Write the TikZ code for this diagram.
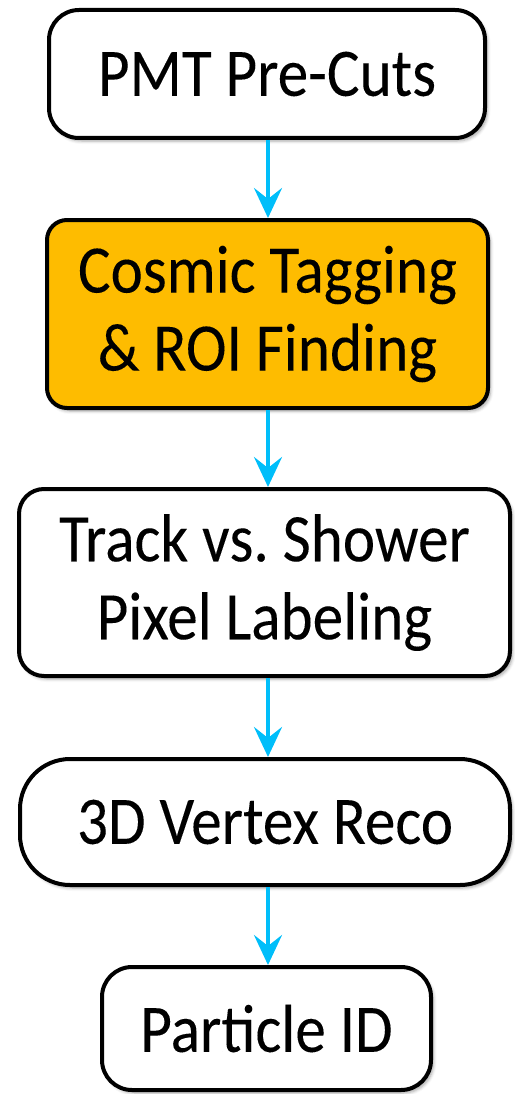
\documentclass[tikz,border=0pt]{standalone}
\usepackage{fontspec}
\setmainfont{Carlito}[FakeStretch=0.9, FakeBold=0.1]
\usetikzlibrary{arrows.meta,shadows.blur}
\definecolor{flowblue}{RGB}{0,190,250}
\definecolor{flowamber}{RGB}{254,188,0}
\tikzset{
  stage/.style={draw=black, line width=4pt, fill=white, align=center,
    inner sep=0pt, font=\fontsize{68}{78}\selectfont,
    blur shadow={shadow xshift=2.5pt, shadow yshift=-3pt,
      shadow blur radius=3pt, shadow opacity=35}},
  flow/.style={draw=flowblue, line width=4pt,
    -{Stealth[length=30pt, width=28pt, inset=11pt]}}
}
\begin{document}
\begin{tikzpicture}[x=1pt, y=-1pt]
  \useasboundingbox (0,0) rectangle (514,1094);
  \coordinate (spine) at (268,0);
  \node[stage, rounded corners=30pt, minimum width=436pt, minimum height=128pt]
    (precuts) at (267,74) {PMT Pre-Cuts};
  \node[stage, fill=flowamber, rounded corners=20pt, minimum width=441pt, minimum height=188pt]
    (cosmic) at (267.5,314) {Cosmic Tagging\\ \& ROI Finding};
  \node[stage, rounded corners=25pt, minimum width=491pt, minimum height=187pt]
    (pixel) at (264.5,582.5) {Track vs.\ Shower\\ Pixel Labeling};
  \node[stage, rounded corners=50pt, minimum width=490pt, minimum height=126pt]
    (vertex) at (265,822) {3D Vertex Reco};
  \node[stage, rounded corners=30pt, minimum width=329pt, minimum height=123pt]
    (pid) at (266.5,1028.5) {Particle ID};
  \draw[flow] (precuts.south -| spine) -- (cosmic.north -| spine);
  \draw[flow] (cosmic.south -| spine) -- (pixel.north -| spine);
  \draw[flow] (pixel.south -| spine) -- (vertex.north -| spine);
  \draw[flow] (vertex.south -| spine) -- (pid.north -| spine);
\end{tikzpicture}
\end{document}
